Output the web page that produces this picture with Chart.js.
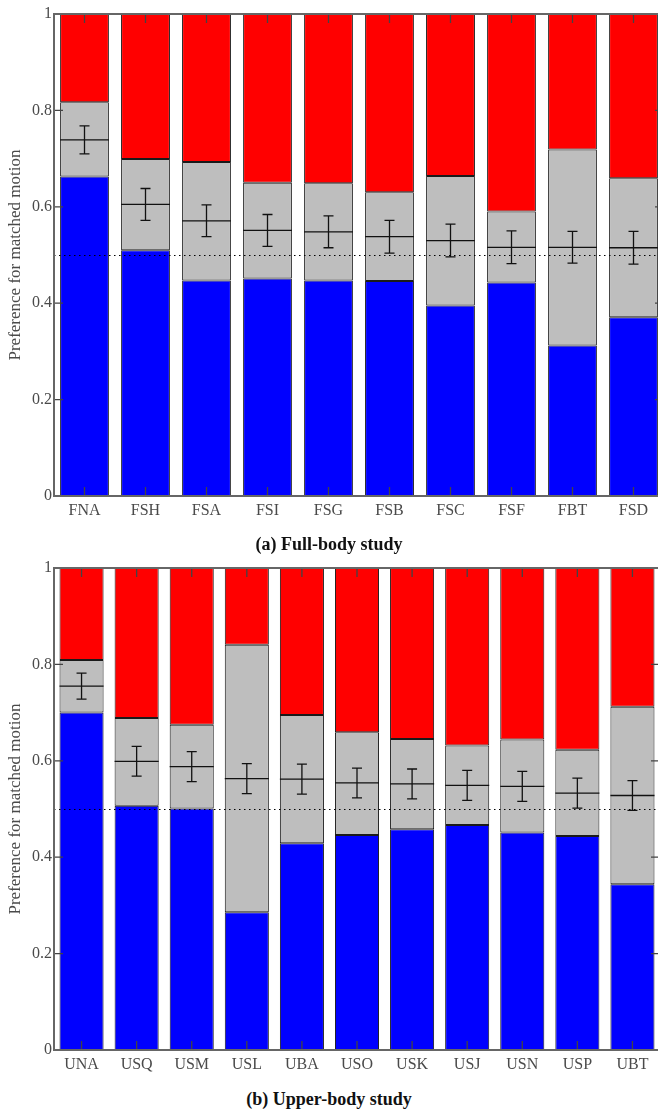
<!DOCTYPE html>
<html lang="en">
<head>
<meta charset="UTF-8">
<script src="https://cdn.jsdelivr.net/npm/chart.js"></script>
<title>Preference for matched motion</title>
<style>
  html, body { margin: 0; padding: 0; overflow: hidden; background: #fff; }
  body { width: 658px; height: 1113px; position: relative; }
  canvas { position: absolute; left: 0; }
  #fullChart { top: 0; }
  #upperChart { top: 554px; }
  .caption {
    position: absolute; left: 0; width: 658px; text-align: center;
    font: bold 18px "Liberation Serif", serif; color: #111;
  }
</style>
</head>
<body>
  <canvas id="fullChart" width="670" height="530"></canvas>
  <canvas id="upperChart" width="666" height="530"></canvas>
  <div class="caption" style="top:534px">(a) Full-body study</div>
  <div class="caption" style="top:1089px">(b) Upper-body study</div>

<script>
  // full-body study
  const fullLabels = ['FNA', 'FSH', 'FSA', 'FSI', 'FSG', 'FSB', 'FSC', 'FSF', 'FBT', 'FSD'];
  const fullBlue = [0.663, 0.510, 0.447, 0.451, 0.447, 0.446, 0.395, 0.443, 0.312, 0.371];
  const fullGrayTop = [0.817, 0.699, 0.693, 0.650, 0.649, 0.630, 0.664, 0.590, 0.719, 0.659];
  const fullMean = [0.739, 0.605, 0.571, 0.551, 0.548, 0.538, 0.530, 0.516, 0.516, 0.515];
  const fullErr = [0.029, 0.033, 0.033, 0.033, 0.033, 0.034, 0.034, 0.034, 0.033, 0.034];

  // upper-body study
  const upperLabels = ['UNA', 'USQ', 'USM', 'USL', 'UBA', 'USO', 'USK', 'USJ', 'USN', 'USP', 'UBT'];
  const upperBlue = [0.700, 0.507, 0.501, 0.286, 0.429, 0.446, 0.458, 0.467, 0.451, 0.444, 0.344];
  const upperGrayTop = [0.809, 0.689, 0.675, 0.841, 0.695, 0.659, 0.645, 0.632, 0.644, 0.623, 0.712];
  const upperMean = [0.755, 0.599, 0.588, 0.563, 0.562, 0.554, 0.552, 0.549, 0.547, 0.533, 0.528];
  const upperErr = [0.027, 0.031, 0.031, 0.031, 0.031, 0.031, 0.031, 0.031, 0.031, 0.031, 0.031];

  const yTickLabels = ['0', '0.2', '0.4', '0.6', '0.8', '1'];
  const chanceLevel = 0.5;

  const axisColor = '#666';
  const textColor = '#4a4a4a';
  const serif = '"Liberation Serif", serif';

  // mean lines, error bars, chance line, inner ticks and the box
  const overlay = {
    id: 'overlay',
    afterDatasetsDraw(chart, args, opts) {
      const { ctx, chartArea: a, scales: { x, y } } = chart;
      const bars = chart.getDatasetMeta(0).data;
      ctx.save();

      ctx.strokeStyle = '#111';
      ctx.lineWidth = 1.3;
      opts.means.forEach((m, i) => {
        const cx = bars[i].x, hw = bars[i].width / 2;
        const ym = y.getPixelForValue(m);
        const yHi = y.getPixelForValue(m + opts.errs[i]);
        const yLo = y.getPixelForValue(m - opts.errs[i]);
        ctx.beginPath();
        ctx.moveTo(cx - hw, ym); ctx.lineTo(cx + hw, ym);
        ctx.moveTo(cx, yHi); ctx.lineTo(cx, yLo);
        ctx.moveTo(cx - 5, yHi); ctx.lineTo(cx + 5, yHi);
        ctx.moveTo(cx - 5, yLo); ctx.lineTo(cx + 5, yLo);
        ctx.stroke();
      });

      // dotted 0.5 line
      const y5 = Math.round(y.getPixelForValue(chanceLevel)) + 0.5;
      ctx.strokeStyle = '#000';
      ctx.lineWidth = 1;
      ctx.setLineDash([1.5, 3.5]);
      ctx.beginPath();
      ctx.moveTo(a.left, y5); ctx.lineTo(a.right, y5);
      ctx.stroke();
      ctx.setLineDash([]);

      // ticks pointing inwards
      ctx.strokeStyle = '#444';
      ctx.lineWidth = 1.3;
      ctx.beginPath();
      x.ticks.forEach((t, i) => {
        const px = x.getPixelForTick(i);
        ctx.moveTo(px, a.top); ctx.lineTo(px, a.top + 9);
        ctx.moveTo(px, a.bottom); ctx.lineTo(px, a.bottom - 9);
      });
      y.ticks.forEach((t, i) => {
        const py = y.getPixelForTick(i);
        ctx.moveTo(a.left, py); ctx.lineTo(a.left + 9, py);
        ctx.moveTo(a.right, py); ctx.lineTo(a.right - 9, py);
      });
      ctx.stroke();

      ctx.strokeStyle = axisColor;
      ctx.lineWidth = 2;
      ctx.strokeRect(a.left, a.top, a.right - a.left, a.bottom - a.top);
      ctx.restore();
    }
  };

  function makeChart(id, labels, blue, grayTop, means, errs) {
    const gray = grayTop.map((g, i) => g - blue[i]);
    const red = grayTop.map(g => 1 - g);
    const seg = (data, color) => ({
      data: data,
      backgroundColor: color,
      borderColor: '#1a1a1a',
      borderWidth: 1,
      borderSkipped: false,
      categoryPercentage: 0.8,
      barPercentage: 1.0
    });

    return new Chart(document.getElementById(id), {
      type: 'bar',
      data: {
        labels: labels,
        datasets: [seg(blue, '#0000ff'), seg(gray, '#bebebe'), seg(red, '#ff0000')]
      },
      options: {
        responsive: false,
        animation: false,
        layout: { padding: { top: 14, left: 0, right: 6, bottom: 0 } },
        plugins: {
          legend: { display: false },
          tooltip: { enabled: false },
          overlay: { means: means, errs: errs }
        },
        scales: {
          x: {
            stacked: true,
            grid: { display: false, drawTicks: false },
            border: { display: false },
            ticks: { color: textColor, padding: 5, font: { family: serif, size: 16 } },
            afterFit: s => { s.height = 34; }
          },
          y: {
            stacked: true,
            min: 0,
            max: 1,
            grid: { display: false, drawTicks: false },
            border: { display: false },
            ticks: {
              stepSize: 0.2,
              padding: 2,
              color: textColor,
              font: { family: serif, size: 16 },
              callback: (v, i) => yTickLabels[i]
            },
            title: {
              display: true,
              text: 'Preference for matched motion',
              color: textColor,
              font: { family: serif, size: 17 },
              padding: { top: 5, bottom: 0 }
            },
            afterFit: s => { s.width = 54; }
          }
        }
      },
      plugins: [overlay]
    });
  }

  makeChart('fullChart', fullLabels, fullBlue, fullGrayTop, fullMean, fullErr);
  makeChart('upperChart', upperLabels, upperBlue, upperGrayTop, upperMean, upperErr);
</script>
</body>
</html>
